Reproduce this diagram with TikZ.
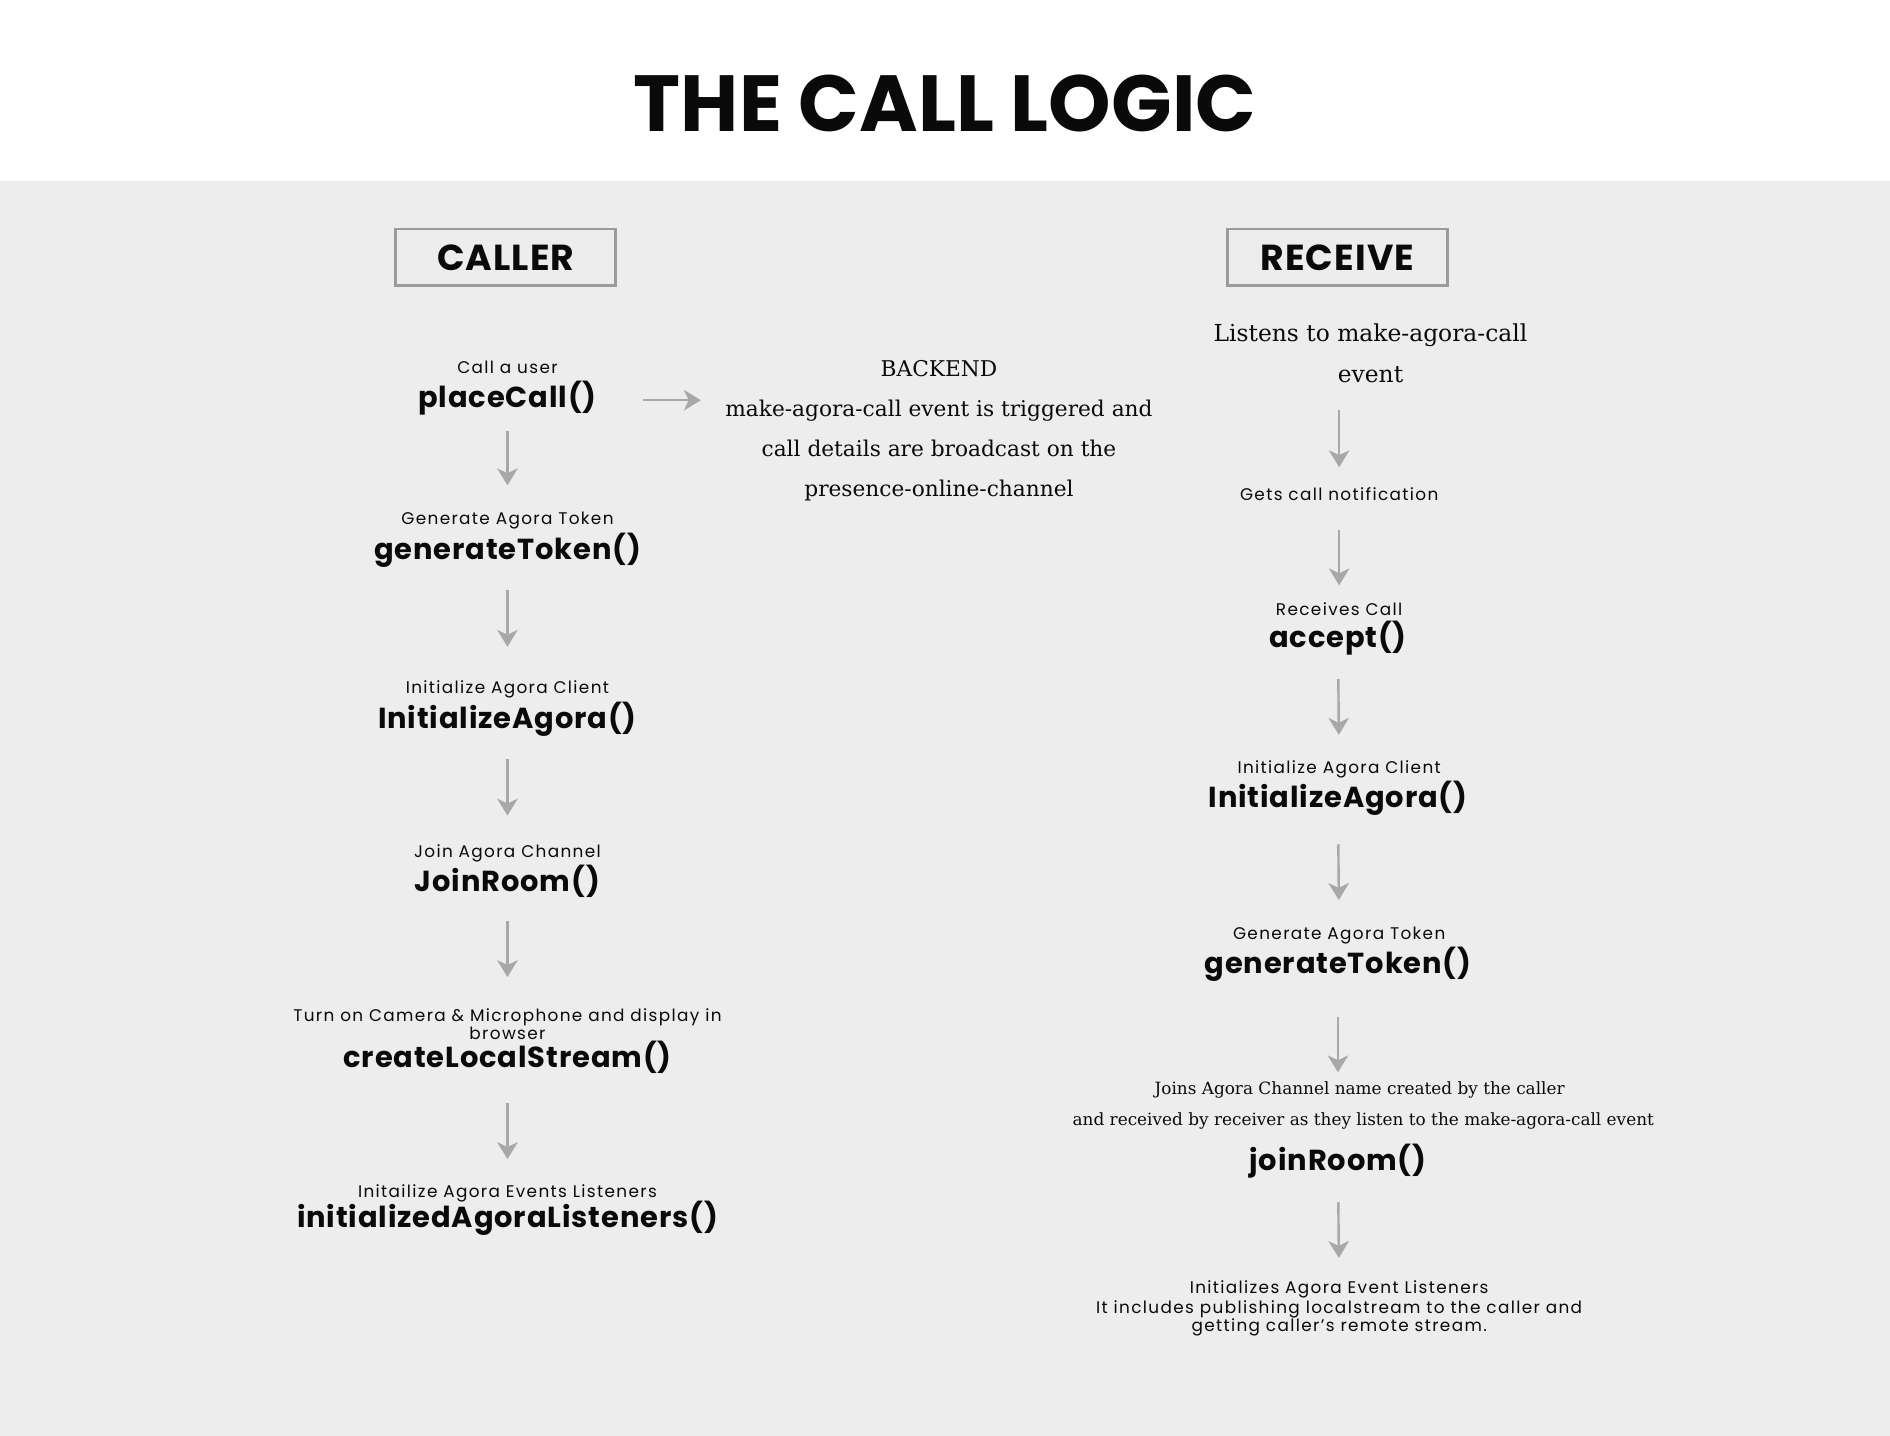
\documentclass[tikz,border=0pt]{standalone}
\usepackage{fontspec}
\setmainfont{Poppins}
\newfontfamily\serifA{DejaVu Serif}
\usetikzlibrary{arrows.meta}
\definecolor{bgray}{HTML}{EDEDED}
\definecolor{arrgray}{HTML}{A8A8A8}
\definecolor{boxgray}{HTML}{9B9B9B}
\definecolor{ink}{HTML}{0A0A0A}
\begin{document}
\begin{tikzpicture}[x=0.5pt,y=-0.5pt,
  lab/.style={font=\fontsize{7}{8}\selectfont\addfontfeatures{LetterSpace=8}, inner sep=0, text height=5.5pt, text depth=2pt, text=ink},
  fn/.style={font=\fontsize{12}{14}\selectfont\bfseries\addfontfeatures{LetterSpace=3}, inner sep=0, text height=9pt, text depth=3pt, text=ink},
  hdr/.style={draw=boxgray, line width=1.2pt, minimum width=91.5pt, minimum height=23.5pt, inner sep=0, font=\fontsize{15}{18}\selectfont\bfseries\addfontfeatures{LetterSpace=3}, text=ink},
  bk/.style={font=\serifA\fontsize{9}{16.6}\selectfont, align=center, inner sep=0, text=ink},
  ls/.style={font=\serifA\fontsize{9.7}{17}\selectfont, align=center, inner sep=0, text=ink},
  jn/.style={font=\serifA\fontsize{7}{8}\selectfont, inner sep=0, text height=5.5pt, text depth=1.5pt, text=ink},
  arr/.style={draw=arrgray, line width=1pt, -{Stealth[length=7pt,width=8.5pt,inset=2pt]}, arrgray}
]
\useasboundingbox (0,0) rectangle (1568,1191);
\fill[white] (0,0) rectangle (1568,150);
\fill[bgray] (0,150) rectangle (1568,1191);

\node[font=\fontsize{33}{36}\selectfont\bfseries, text=ink, inner sep=0] (title) at (784,86) {THE CALL LOGIC};

\node[hdr] (caller) at (419.5,213.5) {CALLER};
\node[hdr] (receive) at (1109.5,213.5) {RECEIVE};

% caller column
\node[lab] (l1) at (421,306) {Call a user};
\node[fn]  (f1) at (421,332) {placeCall()};
\node[lab] (l2) at (421,432) {Generate Agora Token};
\node[fn]  (f2) at (421,458) {generateToken()};
\node[lab] (l3) at (421,572) {Initialize Agora Client};
\node[fn]  (f3) at (421,598) {InitializeAgora()};
\node[lab] (l4) at (421,708) {Join Agora Channel};
\node[fn]  (f4) at (421,734) {JoinRoom()};
\node[lab] (l5) at (421,844) {Turn on Camera \& Microphone and display in};
\node[lab] (l5b) at (421,859) {browser};
\node[fn]  (f5) at (421,880) {createLocalStream()};
\node[lab] (l6) at (421,990) {Initailize Agora Events Listeners};
\node[fn]  (f6) at (421,1012) {initializedAgoraListeners()};

\draw[arr, shorten <=6.5pt, shorten >=10.75pt] (f1) -- (l2);
\draw[arr, shorten <=9.5pt, shorten >=13.75pt] (f2) -- (l3);
\draw[arr, shorten <=9.5pt, shorten >=11.75pt] (f3) -- (l4);
\draw[arr, shorten <=9pt, shorten >=12.75pt] (f4) -- (l5);
\draw[arr, shorten <=11.5pt, shorten >=10.25pt] (f5) -- (l6);

% backend
\node[bk] (bk) at (779,357) {BACKEND\\make-agora-call event is triggered and\\call details are broadcast on the\\presence-online-channel};
\draw[arr, shorten <=19pt, shorten >=10pt] (f1.east) -- (f1.east -| bk.west);

% receiver column
\node[ls] (r0) at (1137,293) {Listens to make-agora-call\\event};
\node[lab] (r1) at (1111,412) {Gets call notification};
\node[lab] (rl2) at (1111,507) {Receives Call};
\node[fn]  (rf2) at (1110,531) {accept()};
\node[lab] (rl3) at (1111,638) {Initialize Agora Client};
\node[fn]  (rf3) at (1110,664) {InitializeAgora()};
\node[lab] (rl4) at (1111,776) {Generate Agora Token};
\node[fn]  (rf4) at (1110,802) {generateToken()};
\node[jn]  (rj1) at (1128,904) {Joins Agora Channel name created by the caller};
\node[jn]  (rj2) at (1131,930) {and received by receiver as they listen to the make-agora-call event};
\node[fn]  (rf5) at (1110,965) {joinRoom()};
\node[lab] (rl6) at (1111,1070) {Initializes Agora Event Listeners};
\node[lab] (rl6b) at (1111,1086) {It includes publishing localstream to the caller and};
\node[lab] (rl6c) at (1111,1101) {getting caller’s remote stream.};

\draw[arr, shorten <=11pt, shorten >=8.25pt] (r1.north |- r0.south) -- (r1.north);
\draw[arr, shorten <=9.75pt, shorten >=6.75pt] (r1) -- (rl2);
\draw[arr, shorten <=10pt, shorten >=10.25pt] (rf2) -- (rl3);
\draw[arr, shorten <=12pt, shorten >=10.75pt] (rf3) -- (rl4);
\draw[arr, shorten <=14.5pt, shorten >=3.5pt] (rf4.south) -- (rf4.south |- rj1.north);
\draw[arr, shorten <=10pt, shorten >=9.25pt] (rf5) -- (rl6);
\end{tikzpicture}
\end{document}
